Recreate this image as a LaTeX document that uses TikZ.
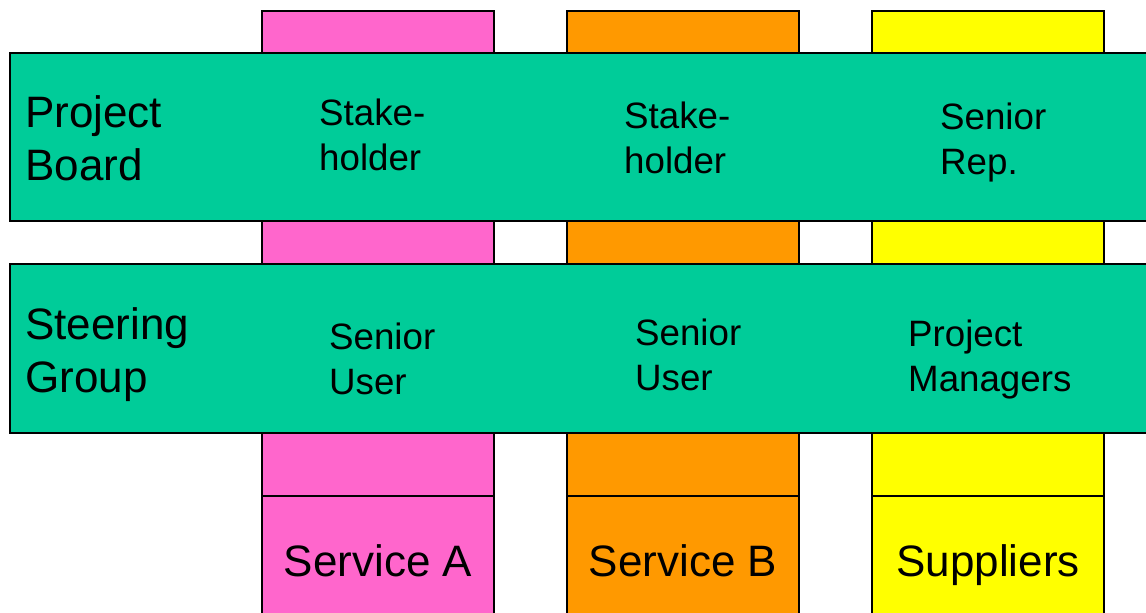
\documentclass[tikz,border=0pt]{standalone}
\usepackage{fontspec}
\setmainfont{Liberation Sans}
\definecolor{bandgreen}{HTML}{00CC99}
\definecolor{svcpink}{HTML}{FF66CC}
\definecolor{svcorange}{HTML}{FF9900}
\definecolor{suppyellow}{HTML}{FFFF00}
\begin{document}
\begin{tikzpicture}[x=1pt,y=-1pt,
  box/.style={draw=black, line width=1.2pt, anchor=north west, inner sep=0pt, outer sep=0pt},
  colbox/.style={box, minimum width=232pt, minimum height=485pt},
  footbox/.style={box, minimum width=232pt, minimum height=130pt},
  band/.style={box, fill=bandgreen, minimum width=1150pt},
  bigtext/.style={font=\fontsize{44}{53}\selectfont, align=left, anchor=base west, inner sep=0pt},
  smalltext/.style={font=\fontsize{36.7}{44.5}\selectfont, align=left, anchor=base west, inner sep=0pt},
  foottext/.style={font=\fontsize{44}{53}\selectfont, anchor=base, inner sep=0pt}]
\useasboundingbox (0,0) rectangle (1146,613);
\clip (0,0) rectangle (1146,613);

% vertical columns and their labelled feet
\node[colbox, fill=svcpink] (colA) at (262,11) {};
\node[footbox, fill=svcpink] (footA) at (colA.south west) {};
\node[colbox, fill=svcorange] (colB) at (567,11) {};
\node[footbox, fill=svcorange] (footB) at (colB.south west) {};
\node[colbox, fill=suppyellow] (colC) at (872,11) {};
\node[footbox, fill=suppyellow] (footC) at (colC.south west) {};

% horizontal bands
\node[band, minimum height=168pt] (board) at (10,53) {};
\node[band, minimum height=169pt] (steer) at (10,264) {};

% band labels (anchored on the baseline of the last line)
\node[bigtext] (boardlbl) at (25,180) {Project\\Board};
\node[bigtext] (steerlbl) at (25,392) {Steering\\Group};

% board roles
\node[smalltext] (stakeA) at (319,170) {Stake-\\holder};
\node[smalltext] (stakeB) at (624,173) {Stake-\\holder};
\node[smalltext] (senrep) at (940,174) {Senior\\Rep.};

% steering group roles
\node[smalltext] (userA) at (329,394) {Senior\\User};
\node[smalltext] (userB) at (635,390) {Senior\\User};
\node[smalltext] (pms) at (908,391) {Project\\Managers};

% column names
\node[foottext] (svcA) at (378,576) {Service A};
\node[foottext] (svcB) at (683,576) {Service B};
\node[foottext] (supp) at (988,576) {Suppliers};
\end{tikzpicture}
\end{document}
